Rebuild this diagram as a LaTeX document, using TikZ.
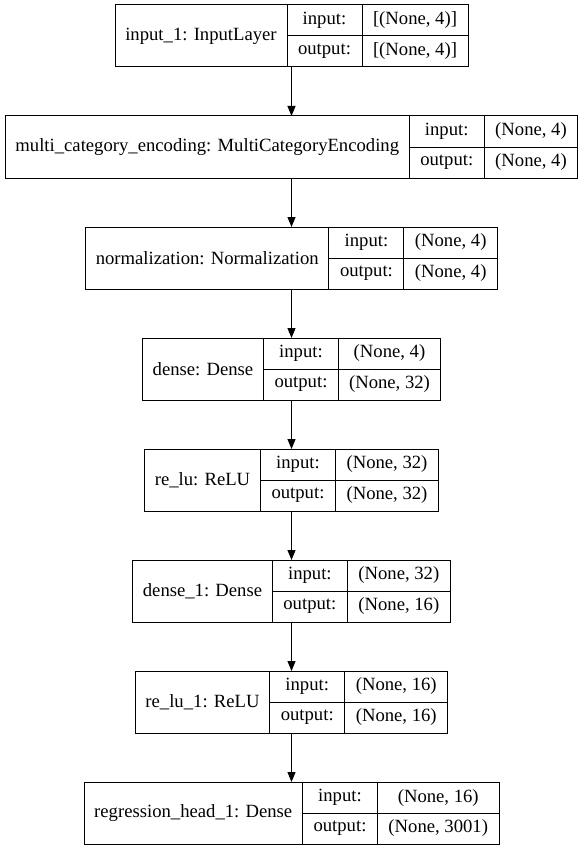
\documentclass[tikz,border=0pt]{standalone}
\usepackage{fontspec}
\setmainfont{Liberation Serif}
\usetikzlibrary{arrows.meta}
\tikzset{
  cell/.style={draw=black, line width=1pt, rectangle, inner sep=0pt, outer sep=0pt,
    font=\fontsize{18.67}{22}\selectfont, text=black},
  boxframe/.style={draw=black, line width=1pt, rectangle, inner sep=0pt, outer sep=0pt},
  flow/.style={draw=black, line width=1pt, -{Triangle[length=10pt,width=8pt]}}
}
\newcommand{\klayer}[7]{%
  \pgfmathsetmacro{\ktop}{5+111*#2}%
  \pgfmathsetmacro{\kW}{#3+75+#4}%
  \pgfmathsetmacro{\kL}{291.5-\kW/2}%
  \node[boxframe, minimum width=\kW, minimum height=62] (#1) at (291.5,{\ktop+31}) {};
  \node[cell, minimum width=#3, minimum height=62] (#1name) at ({\kL+#3/2},{\ktop+31}) {#5};
  \node[cell, minimum width=75, minimum height=31] (#1inlab) at ({\kL+#3+37.5},{\ktop+15.5}) {input:};
  \node[cell, minimum width=75, minimum height=31] (#1outlab) at ({\kL+#3+37.5},{\ktop+46.5}) {output:};
  \node[cell, minimum width=#4, minimum height=31] (#1inval) at ({\kL+#3+75+#4/2},{\ktop+15.5}) {#6};
  \node[cell, minimum width=#4, minimum height=31] (#1outval) at ({\kL+#3+75+#4/2},{\ktop+46.5}) {#7};
}
\begin{document}
\begin{tikzpicture}[x=1pt,y=-1pt]
\useasboundingbox (0,0) rectangle (583,848);
\klayer{la}{0}{172}{106}{input\_1: InputLayer}{[(None, 4)]}{[(None, 4)]}
\klayer{lb}{1}{404}{93.5}{multi\_category\_encoding: MultiCategoryEncoding}{(None, 4)}{(None, 4)}
\klayer{lc}{2}{243.4}{93.5}{normalization: Normalization}{(None, 4)}{(None, 4)}
\klayer{ld}{3}{121}{102}{dense: Dense}{(None, 4)}{(None, 32)}
\klayer{le}{4}{116}{103}{re\_lu: ReLU}{(None, 32)}{(None, 32)}
\klayer{lf}{5}{139.7}{103}{dense\_1: Dense}{(None, 32)}{(None, 16)}
\klayer{lg}{6}{134.5}{103}{re\_lu\_1: ReLU}{(None, 16)}{(None, 16)}
\klayer{lh}{7}{218.5}{121.5}{regression\_head\_1: Dense}{(None, 16)}{(None, 3001)}
\draw[flow] (la.south) -- (lb.north);
\draw[flow] (lb.south) -- (lc.north);
\draw[flow] (lc.south) -- (ld.north);
\draw[flow] (ld.south) -- (le.north);
\draw[flow] (le.south) -- (lf.north);
\draw[flow] (lf.south) -- (lg.north);
\draw[flow] (lg.south) -- (lh.north);
\end{tikzpicture}
\end{document}
